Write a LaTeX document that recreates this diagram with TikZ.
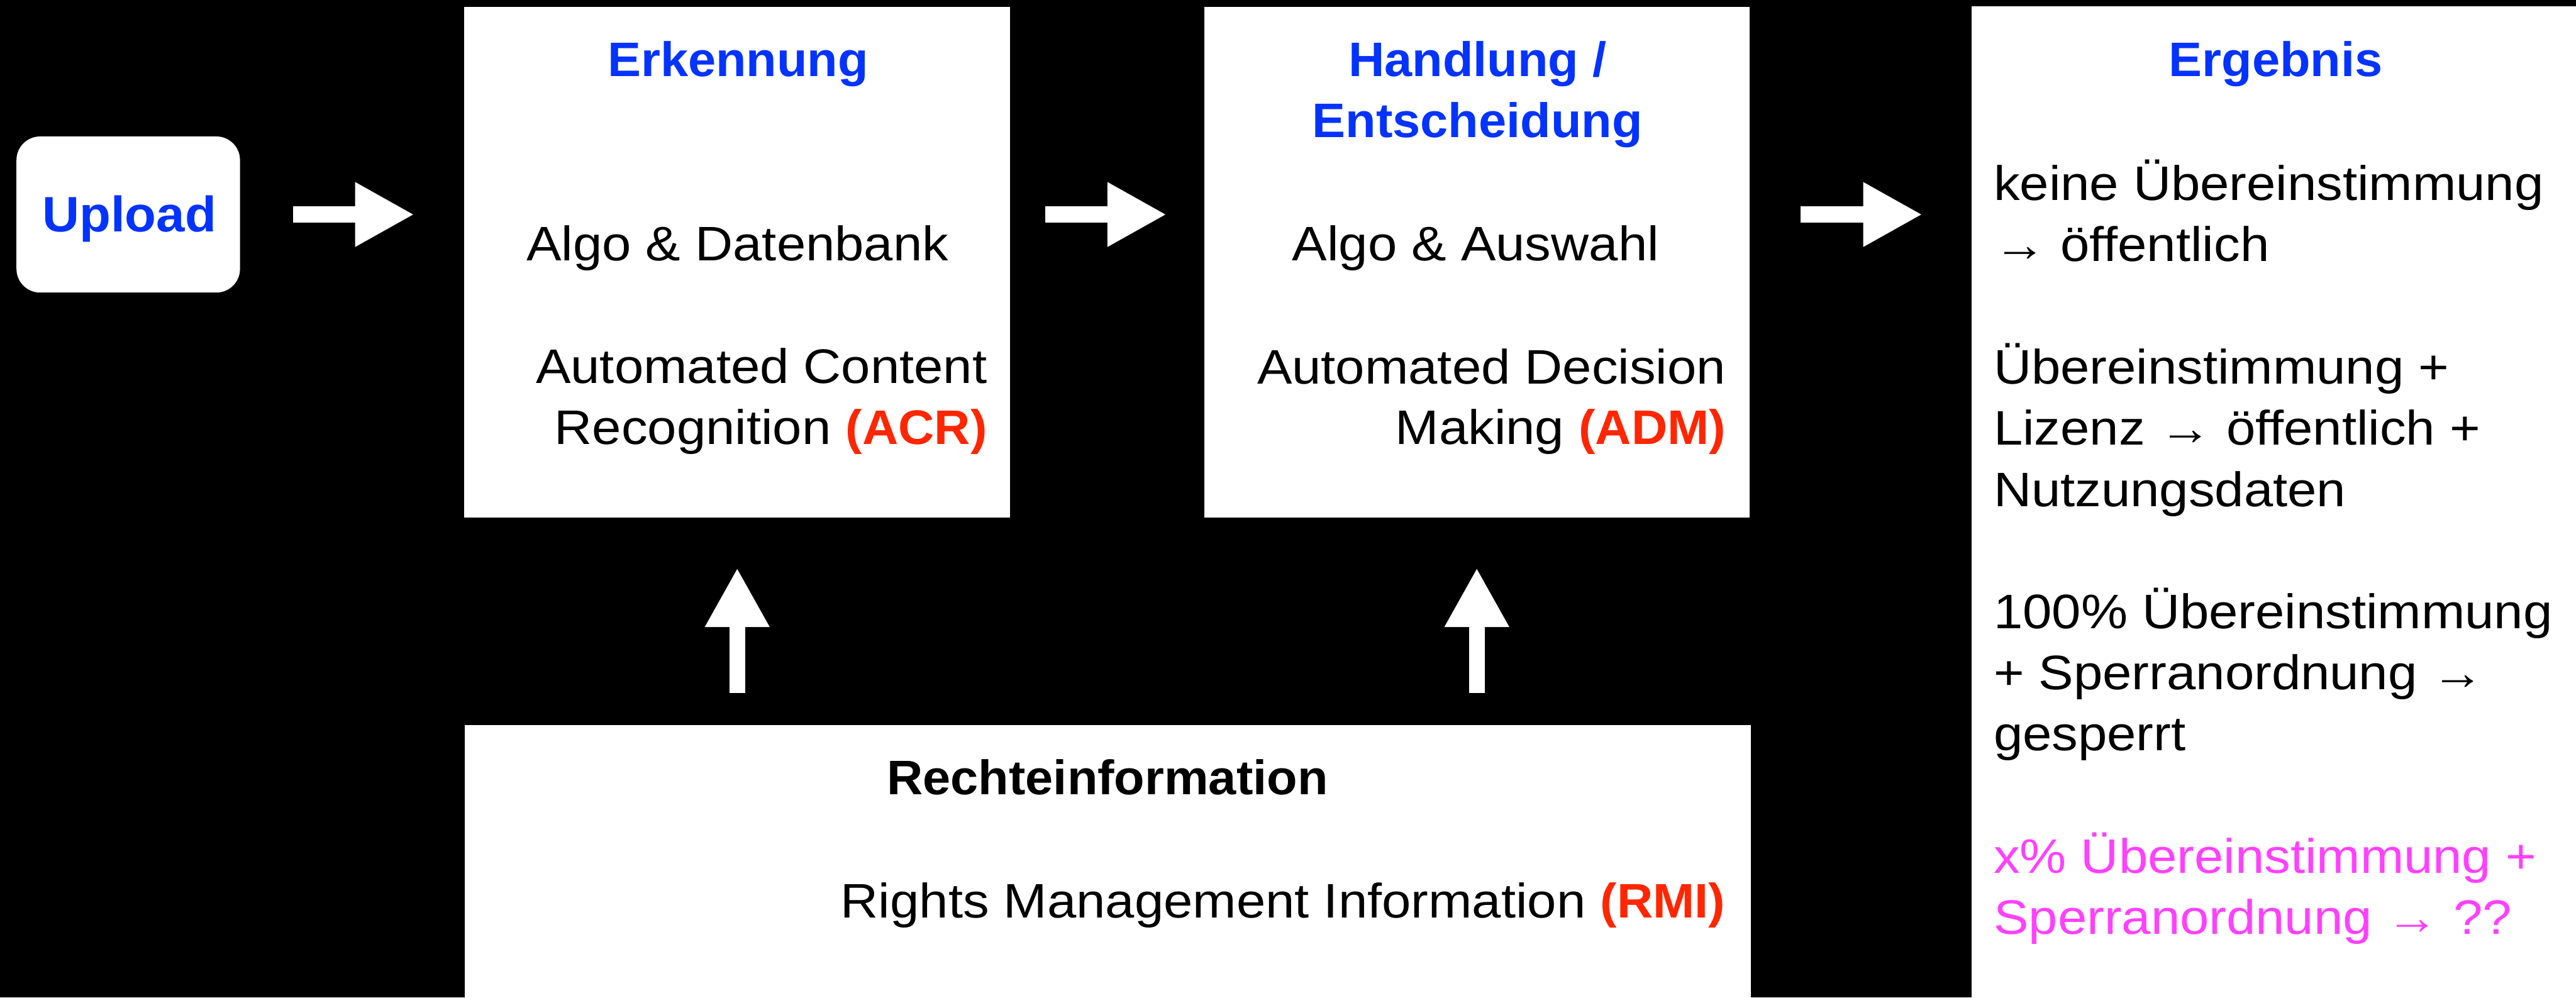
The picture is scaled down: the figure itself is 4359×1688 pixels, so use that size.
\documentclass[tikz,border=0pt]{standalone}
\usepackage{fontspec}
\setmainfont{Liberation Sans}[FakeStretch=1.08]
\newfontfamily\hb{Liberation Sans}[FakeStretch=1.03]
\usetikzlibrary{arrows.meta}
\definecolor{abl}{HTML}{0433FF}
\definecolor{ard}{HTML}{FF2600}
\definecolor{amg}{HTML}{FF40FF}
\newcommand{\fs}{\fontsize{23.33}{28}\selectfont}
\newcommand{\red}[1]{{\hb\bfseries\color{ard}#1}}
\tikzset{
  whitebox/.style={fill=white, draw=none, inner sep=0pt},
  rg/.style={font=\fs, text=black, inner sep=0pt},
  bd/.style={font=\hb\bfseries\fs, inner sep=0pt},
  blockarrow/.style={draw=white, line width=0.27cm, -{Triangle[length=1.0cm, width=1.02cm]}},
}
\begin{document}
\begin{tikzpicture}[x=0.01cm, y=-0.01cm]
\fill[black] (0,0) rectangle (4359,1688);
\useasboundingbox (0,0) rectangle (4359,1688);
% boxes
\node[whitebox, rounded corners=0.4cm, minimum width=3.78cm, minimum height=2.64cm] (upload) at (217,363) {};
\node[whitebox, minimum width=9.23cm, minimum height=8.64cm] (erk) at (1247.5,444) {};
\node[whitebox, minimum width=9.22cm, minimum height=8.64cm] (hand) at (2499,444) {};
\node[whitebox, minimum width=10.22cm, minimum height=16.77cm] (erg) at (3848,849.5) {};
\node[whitebox, minimum width=21.75cm, minimum height=4.61cm] (rmi) at (1874.5,1457.5) {};
% connectors
\draw[blockarrow] ([xshift=0.89cm]upload.east) -- ([xshift=-0.84cm]erk.west |- upload.east);
\draw[blockarrow] ([xshift=0.59cm]erk.east |- upload.east) -- ([xshift=-0.63cm]hand.west |- upload.east);
\draw[blockarrow] ([xshift=0.86cm]hand.east |- upload.east) -- ([xshift=-0.83cm]erg.west |- upload.east);
\draw[blockarrow] ([yshift=0.53cm]erk.south |- rmi.north) -- ([yshift=-0.84cm]erk.south);
\draw[blockarrow] ([yshift=0.53cm]hand.south |- rmi.north) -- ([yshift=-0.84cm]hand.south);
% texts
\node[bd, text=abl, font=\hb\bfseries\fontsize{24}{28}\selectfont, anchor=base] (tup) at (219,392) {Upload};
\node[bd, text=abl, anchor=base] (terk) at (1249,129) {Erkennung};
\node[rg, anchor=base] (terk1) at (1248,441) {Algo \& Datenbank};
\node[rg, anchor=base east] (terk2) at (1671,649) {Automated Content};
\node[rg, anchor=base east] (terk3) at (1671,752) {Recognition \red{(ACR)}};
\node[bd, text=abl, anchor=base] (thand) at (2500,129) {Handlung /};
\node[bd, text=abl, anchor=base] (thand0) at (2500,232) {Entscheidung};
\node[rg, anchor=base] (thand1) at (2497,441) {Algo \& Auswahl};
\node[rg, anchor=base east] (thand2) at (2921,650) {Automated Decision};
\node[rg, anchor=base east] (thand3) at (2921,752) {Making \red{(ADM)}};
\node[bd, text=abl, anchor=base] (terg) at (3851,129) {Ergebnis};
\node[rg, anchor=base west] (e1) at (3373,339) {keine Übereinstimmung};
\node[rg, anchor=base west] (e2) at (3373,442) {→ öffentlich};
\node[rg, anchor=base west] (e3) at (3373,650) {Übereinstimmung +};
\node[rg, anchor=base west] (e4) at (3373,753) {Lizenz → öffentlich +};
\node[rg, anchor=base west] (e5) at (3373,857) {Nutzungsdaten};
\node[rg, anchor=base west] (e6) at (3373,1064) {100\% Übereinstimmung};
\node[rg, anchor=base west] (e7) at (3373,1167) {+ Sperranordnung →};
\node[rg, anchor=base west] (e8) at (3373,1270) {gesperrt};
\node[rg, text=amg, anchor=base west] (e9) at (3373,1478) {x\% Übereinstimmung +};
\node[rg, text=amg, anchor=base west] (e10) at (3373,1581) {Sperranordnung → ??};
\node[bd, anchor=base] (trmi) at (1874,1345) {Rechteinformation};
\node[rg, anchor=base east] (trmi2) at (2920,1553) {Rights Management Information \red{(RMI)}};
\end{tikzpicture}
\end{document}
